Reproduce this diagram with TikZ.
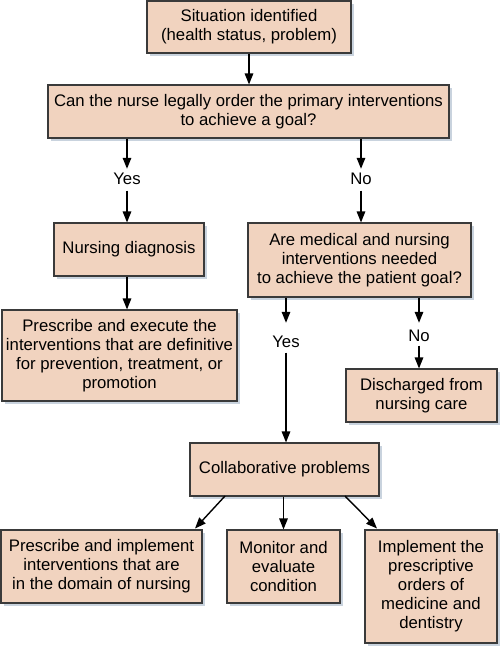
\documentclass[tikz,border=0pt]{standalone}
\usepackage{fontspec}
\setmainfont{Liberation Sans}
\usetikzlibrary{arrows.meta,shadows}
\definecolor{boxfill}{HTML}{F1D3BF}
\definecolor{boxline}{HTML}{3A3A3A}
\definecolor{shadowblue}{HTML}{C9D3DE}
\begin{document}
\begin{tikzpicture}[x=1bp,y=-1bp,
  box/.style={draw=boxline, line width=1.1bp, fill=boxfill, align=center,
    inner sep=1bp, font=\fontsize{16.8}{19}\selectfont, text=black,
    drop shadow={shadow xshift=3bp, shadow yshift=-3bp, fill=shadowblue, opacity=1}},
  lab/.style={inner sep=0pt, text height=12bp, text depth=0pt, font=\fontsize{16.8}{19}\selectfont},
  arr/.style={line width=1.4bp, draw=black, -{Triangle[length=11bp,width=8.5bp]}},
  ln/.style={line width=1.4bp, draw=black}]
\useasboundingbox (0,0) rectangle (500,647);
\node[box, minimum width=204bp, minimum height=52bp] (b1) at (249,27) {Situation identified\\(health status, problem)};
\node[box, minimum width=401bp, minimum height=53bp] (b2) at (248.5,111.5) {Can the nurse legally order the primary interventions\\to achieve a goal?};
\node[lab] (yes1) at (127,179) {Yes};
\node[lab] (no1) at (361,179) {No};
\node[box, minimum width=150bp, minimum height=53bp] (b3) at (129,249.5) {Nursing diagnosis};
\node[box, minimum width=223bp, minimum height=74bp] (b4) at (359.5,260) {Are medical and nursing\\interventions needed\\to achieve the patient goal?};
\node[box, minimum width=235bp, minimum height=91bp] (b5) at (119.5,355.5) {Prescribe and execute the\\interventions that are definitive\\for prevention, treatment, or\\promotion};
\node[lab] (yes2) at (286,341) {Yes};
\node[lab] (no2) at (419,335) {No};
\node[box, minimum width=151bp, minimum height=53bp] (b6) at (421.5,395.5) {Discharged from\\nursing care};
\node[box, minimum width=189bp, minimum height=53bp] (b7) at (284.5,469.5) {Collaborative problems};
\node[box, minimum width=201bp, minimum height=73bp] (b8) at (101.5,566.5) {Prescribe and implement\\interventions that are\\in the domain of nursing};
\node[box, minimum width=113bp, minimum height=73bp] (b9) at (283.5,566.5) {Monitor and\\evaluate\\condition};
\node[box, minimum width=132bp, minimum height=113bp] (b10) at (431,586.5) {Implement the\\prescriptive\\orders of\\medicine and\\dentistry};
\draw[arr] (b1.south) -- (b2.north -| b1);
\draw[arr] (b2.south -| yes1) -- ([yshift=4bp]yes1.north);
\draw[arr] ([yshift=-5.5bp]yes1.south) -- (b3.north -| yes1);
\draw[arr] (b2.south -| no1) -- ([yshift=4bp]no1.north);
\draw[arr] ([yshift=-5.5bp]no1.south) -- (b4.north -| no1);
\draw[arr] (b3.south -| yes1) -- (b5.north -| yes1);
\draw[arr] (b4.south -| yes2) -- ([yshift=12bp]yes2.north);
\draw[arr] ([yshift=-5.5bp]yes2.south) -- (b7.north -| yes2);
\draw[arr] (b4.south -| no2) -- ([yshift=6bp]no2.north);
\draw[arr] ([yshift=-4.5bp]no2.south) -- (b6.north -| no2);
\coordinate (c1) at (225,496);
\coordinate (c3) at (345,496);
\draw[arr] (c1) -- (195,528.5);
\draw[arr] (b7.south -| b9) -- (b9.north);
\draw[arr] (c3) -- (377,528.5);
\end{tikzpicture}
\end{document}
